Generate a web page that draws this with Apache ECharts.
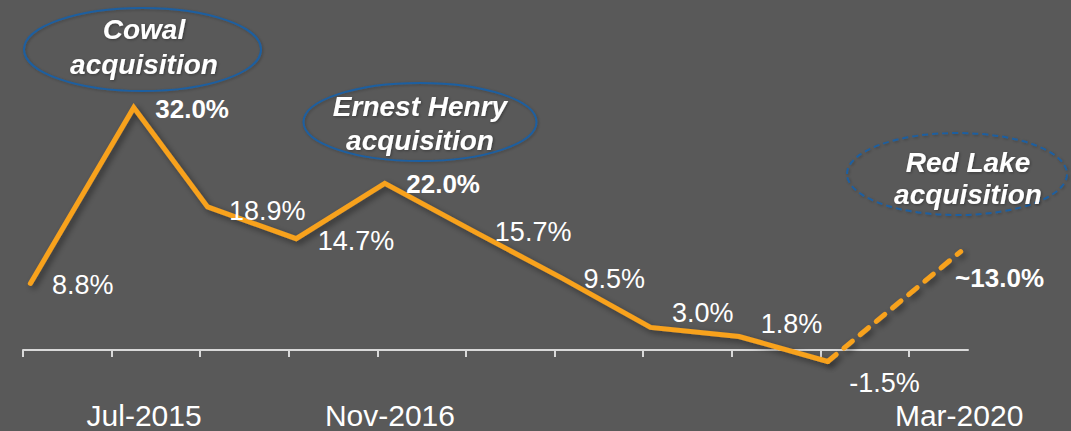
<!DOCTYPE html>
<html><head><meta charset="utf-8">
<script src="https://cdn.jsdelivr.net/npm/echarts@6/dist/echarts.min.js"></script>
<style>html,body{margin:0;padding:0;background:#595959;}#c{width:1071px;height:431px;}</style>
</head><body><div id="c"></div>
<script>
// ---- data ----
const monthOffsets = [0.5, 7.5, 12.5, 18.5, 24.5, 30.5, 36.5, 42.5, 48.5, 54.5, 63.5];
const growthPct = [8.8, 32.0, 18.9, 14.7, 22.0, 15.7, 9.5, 3.0, 1.8, -1.5, 13.0];
const valueLabels = ['8.8%', '32.0%', '18.9%', '14.7%', '22.0%', '15.7%', '9.5%', '3.0%', '1.8%', '-1.5%', '~13.0%'];
const highlighted = [false, true, false, false, true, false, false, false, false, false, true];
const actualCount = 10;
const tickMonths = [0, 6, 12, 18, 24, 30, 36, 42, 48, 54, 60];
const tickLabels = ['Jul-2015', 'Nov-2016', 'Mar-2020'];
const tickLabelAt = [8.2, 24.85, 63.4];
const annotationLines = [['Cowal', 'acquisition'], ['Ernest Henry', 'acquisition'], ['Red Lake', 'acquisition']];

// ---- styles ----
const labelShift = [[0,2],[0,1],[0,4],[0,2],[0,1],[0,1],[0,1],[0,-14],[0,-12],[0,22],[-27,26]];
const FONT = 'Liberation Sans, Arial, sans-serif';
const ORANGE = '#F8A21F';
const BLUE = '#1E5FA0';

function item(i, showLabel) {
  return {
    value: [monthOffsets[i], growthPct[i]],
    __idx: i,
    label: {
      show: showLabel,
      offset: labelShift[i],
      fontWeight: highlighted[i] ? 'bold' : 'normal',
      fontSize: highlighted[i] ? 26 : 27
    }
  };
}
const solidData = [];
for (let i = 0; i < actualCount; i++) solidData.push(item(i, true));
const dashedData = [item(actualCount - 1, false), item(actualCount, true)];

const shadow = {shadowColor: 'rgba(0,0,0,0.45)', shadowBlur: 6, shadowOffsetX: 3, shadowOffsetY: 3};
const labelBase = {
  show: true, position: 'right', distance: 20, color: '#FFFFFF', fontFamily: FONT,
  formatter: p => valueLabels[p.data.__idx]
};

const ellipses = [
  {cx: 142.5, cy: 49.5, rx: 118.5, ry: 41.5, dashed: false, tx: 144, ty: [29, 64]},
  {cx: 420, cy: 122, rx: 116.5, ry: 39, dashed: false, tx: 420, ty: [106, 140]},
  {cx: 957, cy: 174, rx: 110, ry: 41, dashed: true, tx: 968, ty: [162, 194]}
];
const graphic = [];
ellipses.forEach((e, k) => {
  graphic.push({type: 'ellipse', silent: true, shape: {cx: e.cx, cy: e.cy, rx: e.rx, ry: e.ry},
    style: {fill: 'none', stroke: BLUE, lineWidth: 2, lineDash: e.dashed ? [6, 4] : null,
      shadowColor: 'rgba(0,0,0,0.25)', shadowBlur: 3, shadowOffsetX: 1, shadowOffsetY: 1}});
  annotationLines[k].forEach((t, j) => {
    graphic.push({type: 'text', silent: true, x: e.tx, y: e.ty[j],
      style: {text: t, fill: '#FFFFFF', font: 'italic bold 28px ' + FONT, align: 'center', verticalAlign: 'middle',
        textShadowColor: 'rgba(0,0,0,0.35)', textShadowBlur: 3, textShadowOffsetX: 1, textShadowOffsetY: 1}});
  });
});

const chart = echarts.init(document.getElementById('c'), null, {renderer: 'svg'});
chart.setOption({
  backgroundColor: '#595959',
  animation: false,
  grid: {left: 23, right: 103, top: 47, bottom: 43, containLabel: false, outerBoundsMode: 'none'},
  xAxis: {
    type: 'value', min: 0, max: 64, interval: 6,
    axisLine: {show: true, onZero: true, lineStyle: {color: '#D9D9D9', width: 2}},
    axisTick: {show: true, customValues: tickMonths, length: 7, lineStyle: {color: '#D9D9D9', width: 2}},
    axisLabel: {
      show: true, customValues: tickLabelAt, margin: 27, fontSize: 30, color: '#FFFFFF', fontFamily: FONT,
      verticalAlign: 'middle', lineHeight: 30,
      formatter: v => { const k = tickLabelAt.findIndex(t => Math.abs(t - v) < 1e-6); return k >= 0 ? tickLabels[k] : ''; }
    },
    splitLine: {show: false}
  },
  yAxis: {type: 'value', min: -5, max: 40, show: false, splitLine: {show: false}},
  graphic: graphic,
  series: [
    {
      type: 'line', data: solidData, symbol: 'circle', symbolSize: 3, showSymbol: true,
      itemStyle: {color: ORANGE},
      lineStyle: Object.assign({color: ORANGE, width: 5, join: 'miter', cap: 'round'}, shadow),
      label: labelBase, z: 3
    },
    {
      type: 'line', data: dashedData, symbol: 'circle', symbolSize: 3, showSymbol: true,
      itemStyle: {color: ORANGE},
      lineStyle: Object.assign({color: ORANGE, width: 5, type: [11, 10], cap: 'round'}, shadow),
      label: labelBase, z: 3
    }
  ]
});
</script></body></html>
